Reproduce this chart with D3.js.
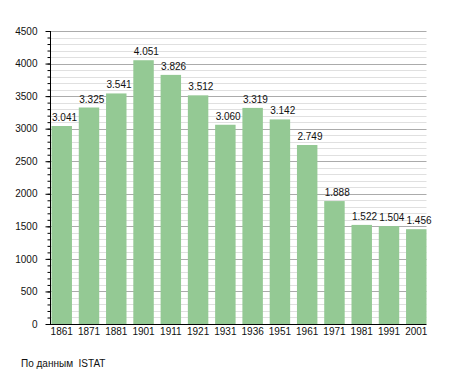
<!DOCTYPE html>
<html><head><meta charset="utf-8">
<script src="https://cdn.jsdelivr.net/npm/d3@7"></script>
<style>body{margin:0;background:#fff}svg{display:block;font-family:"Liberation Sans",Arial,sans-serif}</style>
</head><body><svg id="c" width="455" height="373"></svg>
<script>
const years = ["1861","1871","1881","1901","1911","1921","1931","1936","1951","1961","1971","1981","1991","2001"];
const population = [3041,3325,3541,4051,3826,3512,3060,3319,3142,2749,1888,1522,1504,1456];
const labels = ["3.041","3.325","3.541","4.051","3.826","3.512","3.060","3.319","3.142","2.749","1.888","1.522","1.504","1.456"];
const yTicks = [0,500,1000,1500,2000,2500,3000,3500,4000,4500];
const source = "По данным  ISTAT";

const FONT = "Liberation Sans, Arial, sans-serif";
const svg = d3.select("#c");
const L=50, R=426.5, T=31, B=324;
const x = d3.scaleBand().domain(years).range([L+1.5,R]).paddingInner(0.25).paddingOuter(0);
const y = d3.scaleLinear().domain([0,4500]).range([B,T]);
const minor = d3.range(0,4501,100);

svg.append("g").selectAll("line").data(minor.filter(v=>v%500!==0)).join("line")
  .attr("x1",L).attr("x2",R).attr("y1",d=>Math.round(y(d))+0.5).attr("y2",d=>Math.round(y(d))+0.5)
  .attr("stroke","#e0e0e0").attr("stroke-width",1);
svg.append("g").selectAll("line").data(yTicks.filter(v=>v>0)).join("line")
  .attr("x1",L).attr("x2",R).attr("y1",d=>Math.round(y(d))+0.5).attr("y2",d=>Math.round(y(d))+0.5)
  .attr("stroke","#ababab").attr("stroke-width",1);

svg.append("g").selectAll("rect").data(population).join("rect")
  .attr("x",(d,i)=>x(years[i])).attr("width",x.bandwidth())
  .attr("y",d=>y(d)).attr("height",d=>B-y(d)).attr("fill","#94c994");

svg.append("g").selectAll("text").data(population).join("text")
  .attr("x",(d,i)=>x(years[i])+0.5).attr("y",d=>y(d)-5)
  .attr("text-anchor","start").attr("font-size",10).attr("fill","#111")
  .text((d,i)=>labels[i]);

// y axis
const ya = svg.append("g").attr("transform",`translate(${L+0.5},0)`);
ya.call(d3.axisLeft(y).tickValues(minor).tickSize(3).tickFormat(""))
  .call(g=>g.select(".domain").remove());
ya.selectAll("line").attr("stroke","#000");
const yb = svg.append("g").attr("transform",`translate(${L+0.5},0)`);
yb.call(d3.axisLeft(y).tickValues(yTicks).tickSize(5).tickPadding(8).tickFormat(d3.format("d")))
  .call(g=>g.select(".domain").remove());
yb.selectAll("text").attr("font-size",10).attr("fill","#111").attr("font-family",FONT);
svg.append("line").attr("x1",L+0.5).attr("x2",L+0.5).attr("y1",T).attr("y2",B).attr("stroke","#000");

// x axis
const xa = svg.append("g").attr("transform",`translate(0,${B+0.5})`);
xa.call(d3.axisBottom(x).tickSize(0).tickPadding(3)).call(g=>g.select(".domain").remove());
xa.selectAll("text").attr("font-size",10).attr("fill","#111").attr("font-family",FONT);
svg.append("line").attr("x1",L-4).attr("x2",R).attr("y1",B+0.5).attr("y2",B+0.5).attr("stroke","#000");

svg.append("text").attr("x",21).attr("y",367).attr("font-size",10).attr("fill","#111")
  .style("white-space","pre").text(source);
</script></body></html>
